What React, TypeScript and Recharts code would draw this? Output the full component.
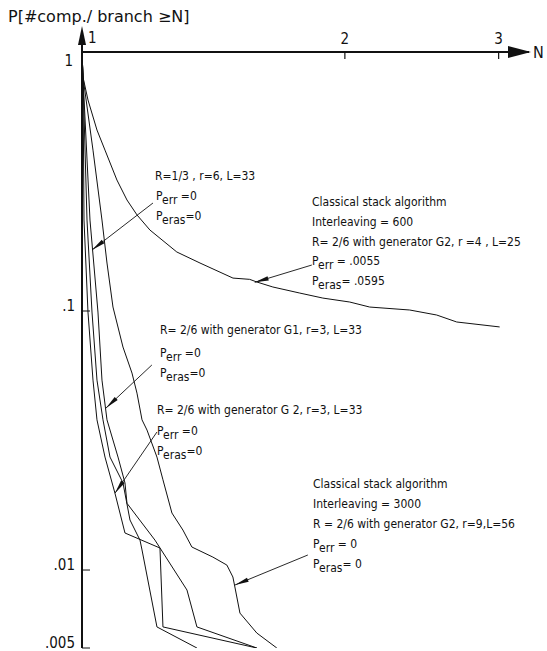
import React from 'react';
import { LineChart, Line, XAxis, YAxis, ReferenceLine } from 'recharts';

const FONT = "'DejaVu Sans Condensed', 'DejaVu Sans', sans-serif";
const TITLE_FONT = "'DejaVu Sans', sans-serif";
const INK = '#111';

// axis ticks
const xTicks = [1, 2, 3];
const yTicks = [0.005, 0.01, 0.1, 1];
const yTickLabels: Record<string, string> = { '0.005': '.005', '0.01': '.01', '0.1': '.1', '1': '1' };

// Classical stack algorithm, interleaving = 600
const nStack600 = [1, 1.0026, 1.0159, 1.0403, 1.0625, 1.0965, 1.1259, 1.156, 1.196, 1.284, 1.365, 1.489, 1.556, 1.586, 1.654, 1.776, 1.887, 2.026, 2.135, 2.373, 2.548, 2.686, 3.008];
const pStack600 = [1, 0.8, 0.653, 0.4997, 0.418, 0.3204, 0.2683, 0.235, 0.2055, 0.169, 0.1532, 0.134, 0.1325, 0.1294, 0.1238, 0.1173, 0.1122, 0.1083, 0.1036, 0.1009, 0.0965, 0.0907, 0.0868];

// Classical stack algorithm, interleaving = 3000
const nStack3000 = [1, 1.0026, 1.0294, 1.0541, 1.0681, 1.0851, 1.1141, 1.1409, 1.156, 1.1715, 1.187, 1.2185, 1.238, 1.2676, 1.3048, 1.3361, 1.4121, 1.4652, 1.4886, 1.4965, 1.5166, 1.5857, 1.6715];
const pStack3000 = [1, 0.8, 0.418, 0.2245, 0.1532, 0.1036, 0.0726, 0.0576, 0.0482, 0.038, 0.0347, 0.0273, 0.0223, 0.0166, 0.01427, 0.01227, 0.01122, 0.01045, 0.0094, 0.0086, 0.00682, 0.00571, 0.005];

// R=2/6 generator G2, r=3, L=33
const nG2r3 = [1, 1.0026, 1.0053, 1.0159, 1.0294, 1.0403, 1.0625, 1.0908, 1.12, 1.2282, 1.238, 1.5857];
const pG2r3 = [1, 0.8, 0.2245, 0.0991, 0.0541, 0.038, 0.0273, 0.0198, 0.0139, 0.01216, 0.00603, 0.005];

// R=2/6 generator G1, r=3, L=33
const nG1r3 = [1, 1.0026, 1.0133, 1.0267, 1.0403, 1.0569, 1.0766, 1.1141, 1.1349, 1.1652, 1.1715, 1.2185, 1.354];
const pG1r3 = [1, 0.8, 0.2245, 0.0991, 0.0541, 0.038, 0.0273, 0.0217, 0.0156, 0.01305, 0.01195, 0.00603, 0.005];

// R=1/3, r=6, L=33
const nR13 = [1, 1.0026, 1.0213, 1.043, 1.0541, 1.0681, 1.0996, 1.12, 1.1259, 1.2121, 1.3189, 1.354, 1.5857];
const pR13 = [1, 0.8, 0.2245, 0.0991, 0.0541, 0.038, 0.0273, 0.0217, 0.0181, 0.01305, 0.00837, 0.00603, 0.005];

// annotation pointers: [tail, tip] in (N, P)
const ptrStack600 = [{ n: 1.833, p: 0.1505 }, { n: 1.577, p: 0.129 }];
const ptrR13 = [{ n: 1.2058, p: 0.2612 }, { n: 1.0267, p: 0.172 }];
const ptrG1 = [{ n: 1.2023, p: 0.0619 }, { n: 1.0653, p: 0.0422 }];
const ptrG2 = [{ n: 1.2185, p: 0.0341 }, { n: 1.0908, p: 0.0198 }];
const ptrStack3000 = [{ n: 1.814, p: 0.01143 }, { n: 1.4965, p: 0.00875 }];

const rows = (ns: number[], ps: number[]) => ns.map((n, i) => ({ n, p: ps[i] }));
const series = [
  { key: 'stack600', data: rows(nStack600, pStack600) },
  { key: 'stack3000', data: rows(nStack3000, pStack3000) },
  { key: 'g2r3', data: rows(nG2r3, pG2r3) },
  { key: 'g1r3', data: rows(nG1r3, pG1r3) },
  { key: 'r13', data: rows(nR13, pR13) },
];
const pointers = [ptrStack600, ptrR13, ptrG1, ptrG2, ptrStack3000];

const XTick = (props: any) => {
  const { x, payload } = props;
  const v = payload.value;
  if (v === 1) {
    return <text x={x + 6} y={43} fontSize={15} fontFamily={FONT} fill={INK}>1</text>;
  }
  return (
    <g>
      <line x1={x} y1={52} x2={x} y2={59} stroke={INK} strokeWidth={1.2} />
      <text x={x} y={44} fontSize={15} fontFamily={FONT} fill={INK} textAnchor="middle">{v}</text>
    </g>
  );
};

const YTick = (props: any) => {
  const { y, payload } = props;
  const v = payload.value;
  const label = yTickLabels[String(v)];
  if (v === 1) {
    return <text x={73} y={66} fontSize={15} fontFamily={FONT} fill={INK} textAnchor="end">{label}</text>;
  }
  return (
    <g>
      <line x1={82} y1={y} x2={90} y2={y} stroke={INK} strokeWidth={1} />
      <text x={75} y={y} fontSize={15} fontFamily={FONT} fill={INK} textAnchor="end">{label}</text>
    </g>
  );
};

const PointerShape = (props: any) => {
  const { x1, y1, x2, y2 } = props;
  const dx = x2 - x1;
  const dy = y2 - y1;
  const len = Math.hypot(dx, dy) || 1;
  const ux = dx / len;
  const uy = dy / len;
  const L = 14;
  const W = 2.2;
  const bx = x2 - ux * L;
  const by = y2 - uy * L;
  const pts = `${x2},${y2} ${bx - uy * W},${by + ux * W} ${bx + uy * W},${by - ux * W}`;
  return (
    <g>
      <line x1={x1} y1={y1} x2={x2} y2={y2} stroke={INK} strokeWidth={0.9} />
      <polygon points={pts} fill={INK} />
    </g>
  );
};

const FS = 12;
const T = ({ x, y, children }: any) => (
  <text x={x} y={y} fontSize={FS} fontFamily={FONT} fill={INK}>{children}</text>
);
const P = ({ x, y, sub, rest }: any) => (
  <text x={x} y={y} fontSize={FS} fontFamily={FONT} fill={INK}>
    P<tspan dy={3.5}>{sub}</tspan><tspan dy={-3.5}>{rest}</tspan>
  </text>
);

export default function App() {
  return (
    <div style={{ position: 'relative', width: 547, height: 651, background: '#fff' }}>
      <style>{'html,body{margin:0;padding:0;overflow:hidden;background:#fff}'}</style>
      <LineChart width={547} height={651} margin={{ top: 32, right: 18, bottom: 3, left: 42 }}>
        <XAxis
          type="number"
          dataKey="n"
          scale="log"
          domain={[1, 3.25]}
          allowDataOverflow
          ticks={xTicks}
          interval={0}
          orientation="top"
          height={20}
          axisLine={{ stroke: INK, strokeWidth: 2 }}
          tickLine={false}
          tick={<XTick />}
        />
        <YAxis
          type="number"
          dataKey="p"
          scale="log"
          domain={[0.005, 1]}
          allowDataOverflow
          ticks={yTicks}
          interval={0}
          width={40}
          axisLine={{ stroke: INK, strokeWidth: 2 }}
          tickLine={false}
          tick={<YTick />}
        />
        {series.map((s) => (
          <Line
            key={s.key}
            data={s.data}
            dataKey="p"
            type="linear"
            stroke={INK}
            strokeWidth={1}
            dot={false}
            activeDot={false}
            isAnimationActive={false}
          />
        ))}
        {pointers.map((seg, i) => (
          <ReferenceLine
            key={i}
            segment={[{ x: seg[0].n, y: seg[0].p }, { x: seg[1].n, y: seg[1].p }]}
            shape={PointerShape}
          />
        ))}
      </LineChart>
      <svg width={547} height={651} style={{ position: 'absolute', left: 0, top: 0, pointerEvents: 'none' }}>
        <text x={8} y={22} fontSize={16} fontFamily={TITLE_FONT} fill={INK}>P[#comp./ branch ≥N]</text>
        <line x1={82} y1={40} x2={82} y2={53} stroke={INK} strokeWidth={2} />
        <polygon points="82,26 78,45 86,45" fill={INK} />
        <polygon points="531,52 508,46 508,58" fill={INK} />
        <text x={533} y={58} fontSize={16} fontFamily={FONT} fill={INK}>N</text>

        <T x={155} y={180}>R=1/3 , r=6, L=33</T>
        <P x={156} y={200} sub="err" rest=" =0" />
        <P x={156} y={220} sub="eras" rest="=0" />

        <T x={312} y={206}>Classical stack algorithm</T>
        <T x={312} y={226}>Interleaving = 600</T>
        <T x={312} y={246}>R= 2/6 with generator G2, r =4 , L=25</T>
        <P x={312} y={265} sub="err" rest="  =  .0055" />
        <P x={312} y={285} sub="eras" rest="= .0595" />

        <T x={160} y={334}>R= 2/6 with generator G1, r=3, L=33</T>
        <P x={160} y={357} sub="err" rest=" =0" />
        <P x={160} y={377} sub="eras" rest="=0" />

        <T x={157} y={414}>R= 2/6 with generator G 2, r=3, L=33</T>
        <P x={157} y={435} sub="err" rest="  =0" />
        <P x={157} y={455} sub="eras" rest="=0" />

        <T x={313} y={488}>Classical stack algorithm</T>
        <T x={313} y={508}>Interleaving = 3000</T>
        <T x={313} y={528}>R = 2/6 with generator G2, r=9,L=56</T>
        <P x={313} y={548} sub="err" rest=" = 0" />
        <P x={313} y={568} sub="eras" rest="= 0" />
      </svg>
    </div>
  );
}
